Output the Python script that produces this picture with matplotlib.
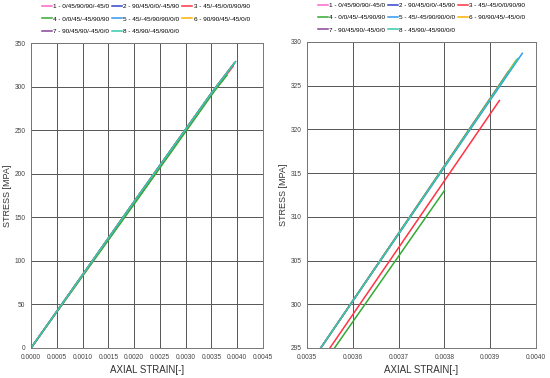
import numpy as np
import matplotlib.pyplot as plt

plt.rcParams['font.family'] = ['Liberation Sans', 'DejaVu Sans']

# layup labels and colours for the 8 specimens
labels = ['1 - 0/45/90/90/-45/0', '2 - 90/45/0/0/-45/90', '3 - 45/-45/0/0/90/90',
          '4 - 0/0/45/-45/90/90', '5 - 45/-45/90/90/0/0', '6 - 90/90/45/-45/0/0',
          '7 - 90/45/90/-45/0/0', '8 - 45/90/-45/90/0/0']
colors = ['#ff66cc', '#3344cc', '#ff3344', '#33aa33', '#3399ee', '#ffb300', '#884499', '#33ccaa']

# strain / stress points
strain = [
    [0.0, 0.0020, 0.00353, 0.00395],
    [0.0, 0.0020, 0.00353, 0.00394],
    [0.0, 0.0020, 0.00355, 0.00392],
    [0.0, 0.0020, 0.00356, 0.00380],
    [0.0, 0.0020, 0.00353, 0.00397],
    [0.0, 0.0020, 0.00353, 0.003956],
    [0.0, 0.0020, 0.00353, 0.00394],
    [0.0, 0.0020, 0.00353, 0.00396],
]
stress = [
    [0.0, 168.0, 295.0, 327.3],
    [0.0, 168.0, 295.0, 326.6],
    [0.0, 166.0, 295.0, 323.3],
    [0.0, 165.0, 295.0, 313.0],
    [0.0, 168.0, 295.0, 328.7],
    [0.0, 168.0, 295.0, 327.9],
    [0.0, 168.0, 295.0, 326.6],
    [0.0, 168.0, 295.0, 328.1],
]

# legend is filled row by row in the original
order = [0, 3, 6, 1, 4, 7, 2, 5]

fig = plt.figure(figsize=(5.5, 3.78), dpi=100)
ax1 = fig.add_axes([0.0564, 0.0794, 0.4218, 0.8068])
ax2 = fig.add_axes([0.5582, 0.0794, 0.4164, 0.8096])

for ax in (ax1, ax2):
    lines = []
    for i in range(8):
        ln, = ax.plot(strain[i], stress[i], color=colors[i], linewidth=1.1, label=labels[i])
        lines.append(ln)
    ax.grid(True, color='#555555', linewidth=0.7)
    ax.set_axisbelow(True)
    for s in ax.spines.values():
        s.set_color('#777777')
        s.set_linewidth(0.7)
    ax.tick_params(length=0, labelsize=4.8, colors='#444444', pad=4)
    ax.set_xlabel('AXIAL STRAIN[-]', fontsize=7, color='#333333', labelpad=3)
    ax.set_ylabel('STRESS [MPA]', fontsize=6.5, color='#333333', labelpad=2)
    ax.xaxis.set_major_formatter(plt.FormatStrFormatter('%.4f'))
    ax.legend([lines[k] for k in order], [labels[k] for k in order],
              loc='lower left', bbox_to_anchor=(0.035, 1.022), ncol=3, fontsize=4.6,
              frameon=False, handlelength=1.6, handletextpad=0.2, columnspacing=0.4,
              labelspacing=1.05, borderaxespad=0)

ax1.set_xlim(0, 0.0045)
ax1.set_ylim(0, 350)
ax1.set_xticks(np.arange(0, 0.00451, 0.0005))
ax1.set_yticks(np.arange(0, 351, 50))

ax2.set_xlim(0.0035, 0.0040)
ax2.set_ylim(295, 330)
ax2.set_xticks(np.arange(0.0035, 0.004001, 0.0001))
ax2.set_yticks(np.arange(295, 331, 5))

fig.savefig('out.png', dpi=100)
